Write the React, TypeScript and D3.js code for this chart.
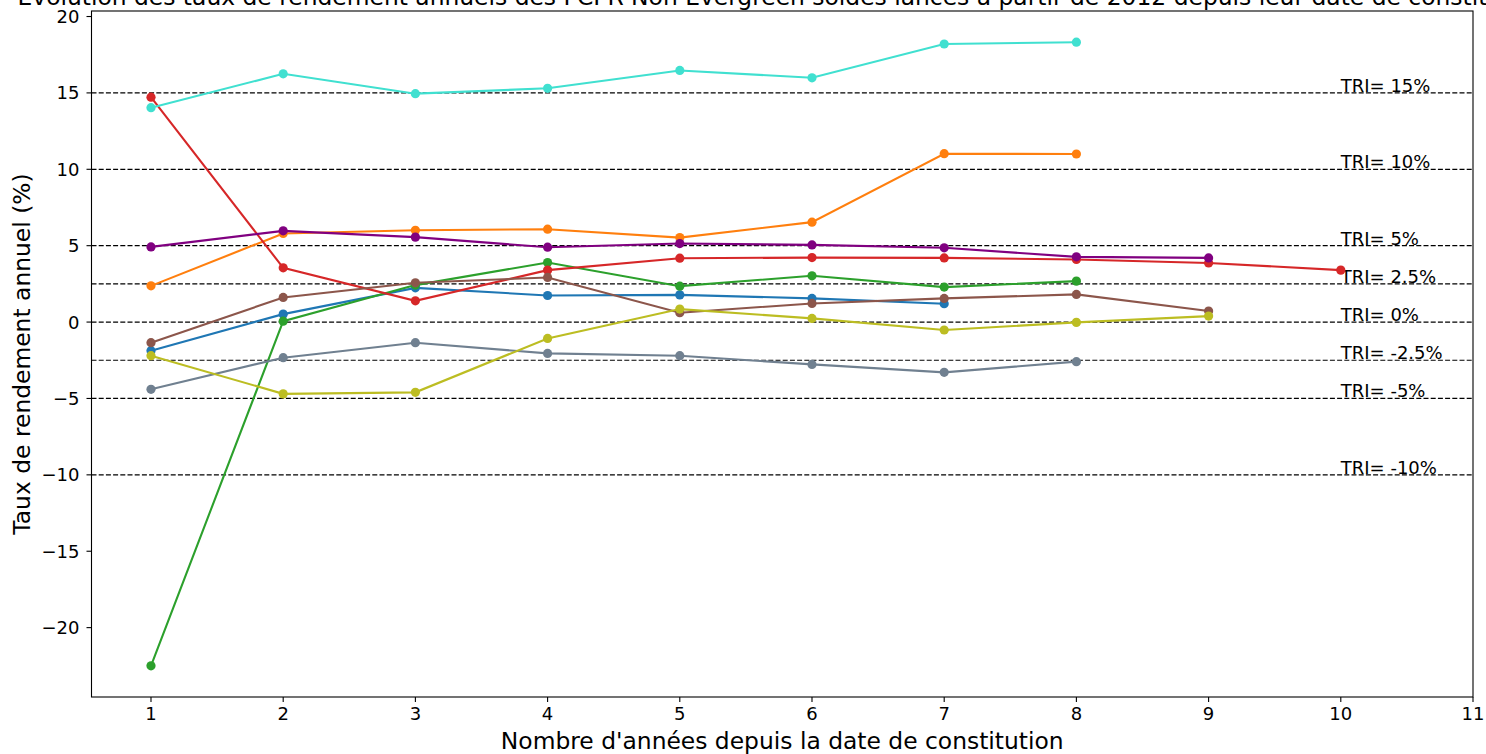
import React from "react";
import * as d3 from "d3";

const years = [1, 2, 3, 4, 5, 6, 7, 8, 9, 10];
const xTicks = [1, 2, 3, 4, 5, 6, 7, 8, 9, 10, 11];
const yTicks = [-20, -15, -10, -5, 0, 5, 10, 15, 20];

const blueVals = [-1.87, 0.52, 2.24, 1.74, 1.78, 1.55, 1.2];
const orangeVals = [2.37, 5.8, 6.01, 6.08, 5.53, 6.54, 11.02, 11.0];
const greenVals = [-22.5, 0.06, 2.42, 3.9, 2.35, 3.03, 2.29, 2.68];
const redVals = [14.72, 3.55, 1.39, 3.4, 4.18, 4.22, 4.2, 4.1, 3.87, 3.4];
const purpleVals = [4.92, 5.97, 5.56, 4.9, 5.14, 5.05, 4.86, 4.27, 4.2];
const brownVals = [-1.35, 1.61, 2.57, 2.92, 0.61, 1.22, 1.55, 1.81, 0.72];
const grayVals = [-4.4, -2.33, -1.35, -2.05, -2.2, -2.77, -3.29, -2.59];
const oliveVals = [-2.2, -4.7, -4.6, -1.07, 0.85, 0.24, -0.52, -0.02, 0.39];
const cyanVals = [14.03, 16.25, 14.95, 15.3, 16.47, 15.99, 18.2, 18.32];

const triLevels = [15, 10, 5, 2.5, 0, -2.5, -5, -10];
const triLabels = ["TRI= 15%", "TRI= 10%", "TRI= 5%", "TRI= 2.5%", "TRI= 0%", "TRI= -2.5%", "TRI= -5%", "TRI= -10%"];

const seriesList = [
  { values: blueVals, color: "#1f77b4" },
  { values: orangeVals, color: "#ff7f0e" },
  { values: greenVals, color: "#2ca02c" },
  { values: redVals, color: "#d62728" },
  { values: purpleVals, color: "#800080" },
  { values: brownVals, color: "#8c564b" },
  { values: grayVals, color: "#708090" },
  { values: oliveVals, color: "#bcbd22" },
  { values: cyanVals, color: "#40e0d0" },
];

const titleText =
  "Evolution des taux de rendement annuels des FCPR Non Evergreen soldés lancés à partir de 2012 depuis leur date de constitution";

const W = 1486;
const H = 754;
const L = 91.5;
const R = 1473;
const T = 11;
const B = 697;
const FONT = "'DejaVu Sans', sans-serif";

export default function App() {
  const allVals = seriesList.flatMap((s) => s.values);
  const [mn, mx] = d3.extent(allVals) as [number, number];
  const pad = (mx - mn) * 0.05;
  const x = d3.scaleLinear().domain([0.55, 11]).range([L, R]);
  const y = d3.scaleLinear().domain([mn - pad, mx + pad]).range([B, T]);

  const line = d3
    .line<number>()
    .x((_, i) => x(years[i]))
    .y((v) => y(v));

  const fmt = (v: number) => (v < 0 ? "\u2212" + Math.abs(v) : String(v));

  return (
    <svg
      width={W}
      height={H}
      style={{ position: "absolute", left: 0, top: 0, background: "#fff" }}
      fontFamily={FONT}
    >
      <rect x={0} y={0} width={W} height={H} fill="#fff" />
      <text x={(L + R) / 2} y={5} textAnchor="middle" fontSize={23.4} fill="#000">
        {titleText}
      </text>

      {/* TRI reference lines */}
      {triLevels.map((lv, i) => (
        <g key={"tri" + i}>
          <line
            x1={L}
            x2={R}
            y1={y(lv)}
            y2={y(lv)}
            stroke="#000"
            strokeWidth={1.2}
            strokeDasharray="5,2.2"
          />
          <text x={x(10)} y={y(lv) - 1} fontSize={18} fill="#000">
            {triLabels[i]}
          </text>
        </g>
      ))}

      {/* series */}
      {seriesList.map((s, si) => (
        <g key={"s" + si}>
          <path d={line(s.values) || ""} fill="none" stroke={s.color} strokeWidth={2.1} />
          {s.values.map((v, i) => (
            <circle key={i} cx={x(years[i])} cy={y(v)} r={4.6} fill={s.color} />
          ))}
        </g>
      ))}

      {/* frame */}
      <rect x={L} y={T} width={R - L} height={B - T} fill="none" stroke="#000" strokeWidth={1.1} />

      {/* x ticks */}
      {xTicks.map((t) => (
        <g key={"xt" + t}>
          <line x1={x(t)} x2={x(t)} y1={B} y2={B + 5} stroke="#000" strokeWidth={1.1} />
          <text x={x(t)} y={B + 23} textAnchor="middle" fontSize={18} fill="#000">
            {t}
          </text>
        </g>
      ))}

      {/* y ticks */}
      {yTicks.map((t) => (
        <g key={"yt" + t}>
          <line x1={L - 5} x2={L} y1={y(t)} y2={y(t)} stroke="#000" strokeWidth={1.1} />
          <text x={L - 12} y={y(t) + 6.5} textAnchor="end" fontSize={18} fill="#000">
            {fmt(t)}
          </text>
        </g>
      ))}

      <text x={(L + R) / 2} y={749} textAnchor="middle" fontSize={23.4} fill="#000">
        Nombre d'années depuis la date de constitution
      </text>
      <text
        transform={`translate(30, ${(T + B) / 2}) rotate(-90)`}
        textAnchor="middle"
        fontSize={23.4}
        fill="#000"
      >
        Taux de rendement annuel (%)
      </text>
    </svg>
  );
}
